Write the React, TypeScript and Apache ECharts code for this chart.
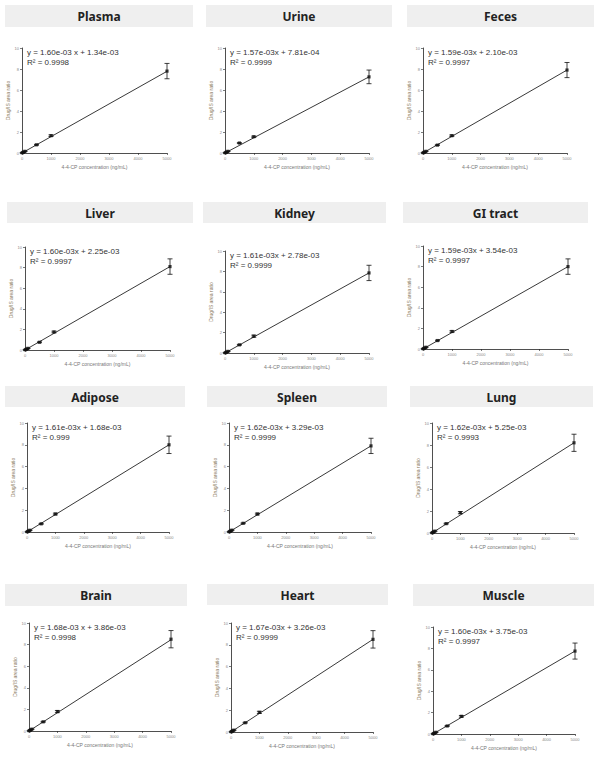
import React, { useEffect, useRef } from "react";
import * as echarts from "echarts";

// Concentrations (ng/mL)
const concentrations = [10, 50, 100, 500, 1000, 5000];

const panelNames = ["Plasma", "Urine", "Feces", "Liver", "Kidney", "GI tract", "Adipose", "Spleen", "Lung", "Brain", "Heart", "Muscle"];

const equations = [
  "y = 1.60e-03 x + 1.34e-03",
  "y = 1.57e-03x + 7.81e-04",
  "y = 1.59e-03x + 2.10e-03",
  "y = 1.60e-03x + 2.25e-03",
  "y = 1.61e-03x + 2.78e-03",
  "y = 1.59e-03x + 3.54e-03",
  "y = 1.61e-03x + 1.68e-03",
  "y = 1.62e-03x + 3.29e-03",
  "y = 1.62e-03x + 5.25e-03",
  "y = 1.68e-03 x + 3.86e-03",
  "y = 1.67e-03x + 3.26e-03",
  "y = 1.60e-03x + 3.75e-03",
];
const rSquared = ["0.9998", "0.9999", "0.9997", "0.9997", "0.9999", "0.9997", "0.999", "0.9999", "0.9993", "0.9998", "0.9999", "0.9997"];

// Mean area ratios
const plasmaY = [0.02, 0.08, 0.16, 0.78, 1.65, 7.8];
const urineY = [0.02, 0.08, 0.16, 0.95, 1.55, 7.25];
const fecesY = [0.02, 0.08, 0.16, 0.75, 1.65, 7.9];
const liverY = [0.02, 0.08, 0.16, 0.75, 1.75, 8.1];
const kidneyY = [0.02, 0.08, 0.16, 0.8, 1.65, 7.85];
const giY = [0.02, 0.08, 0.17, 0.82, 1.7, 8.0];
const adiposeY = [0.02, 0.08, 0.16, 0.75, 1.65, 8.0];
const spleenY = [0.02, 0.08, 0.17, 0.8, 1.65, 7.9];
const lungY = [0.02, 0.09, 0.17, 0.85, 1.85, 8.2];
const brainY = [0.02, 0.09, 0.17, 0.85, 1.8, 8.5];
const heartY = [0.02, 0.09, 0.17, 0.85, 1.8, 8.5];
const muscleY = [0.02, 0.08, 0.16, 0.75, 1.65, 7.75];

// Standard deviations
const plasmaErr = [0.005, 0.01, 0.02, 0.04, 0.08, 0.73];
const urineErr = [0.005, 0.01, 0.02, 0.04, 0.06, 0.65];
const fecesErr = [0.005, 0.01, 0.02, 0.04, 0.07, 0.72];
const liverErr = [0.005, 0.01, 0.02, 0.04, 0.08, 0.75];
const kidneyErr = [0.005, 0.01, 0.02, 0.04, 0.1, 0.75];
const giErr = [0.005, 0.01, 0.02, 0.04, 0.08, 0.75];
const adiposeErr = [0.005, 0.01, 0.02, 0.04, 0.08, 0.8];
const spleenErr = [0.005, 0.01, 0.02, 0.04, 0.08, 0.7];
const lungErr = [0.005, 0.01, 0.02, 0.04, 0.1, 0.78];
const brainErr = [0.005, 0.01, 0.02, 0.04, 0.1, 0.8];
const heartErr = [0.005, 0.01, 0.02, 0.04, 0.1, 0.8];
const muscleErr = [0.005, 0.01, 0.02, 0.04, 0.08, 0.75];

// Fitted line value at 5000 ng/mL
const fitAt5000 = [7.78, 7.25, 7.9, 8.1, 7.85, 8.0, 8.0, 7.9, 8.2, 8.45, 8.5, 7.75];

const meanSeries = [plasmaY, urineY, fecesY, liverY, kidneyY, giY, adiposeY, spleenY, lungY, brainY, heartY, muscleY];
const errSeries = [plasmaErr, urineErr, fecesErr, liverErr, kidneyErr, giErr, adiposeErr, spleenErr, lungErr, brainErr, heartErr, muscleErr];

// Layout: [left, top, width, height] of each plot area
const plotBoxes = [
  [22, 48, 145, 105], [225, 48, 144, 105], [423, 48, 144, 105],
  [25, 247, 145, 103], [225, 251, 144, 102], [423, 246, 145, 103],
  [27, 423, 142, 109], [229, 423, 142, 109], [432, 423, 142, 110],
  [29, 623, 142, 108], [231, 623, 142, 109], [433, 627, 142, 107],
];
// Title boxes: [x, y, w, h]
const titleBoxes = [
  [5, 5, 188, 22], [206, 5, 186, 22], [407, 5, 187, 22],
  [7, 202, 186, 21], [203, 202, 183, 21], [403, 202, 185, 21],
  [5, 386, 180, 21], [207, 386, 180, 21], [410, 386, 183, 21],
  [5, 584, 182, 22], [207, 584, 181, 21], [413, 584, 181, 22],
];

export default function App() {
  const ref = useRef<HTMLDivElement>(null);
  useEffect(() => {
    if (!ref.current) return;
    const chart = echarts.init(ref.current, null, { renderer: "svg" });
    const grids: any[] = [];
    const xAxes: any[] = [];
    const yAxes: any[] = [];
    const series: any[] = [];
    const graphics: any[] = [];
    panelNames.forEach((name, i) => {
      const [l, t, w, h] = plotBoxes[i];
      grids.push({ left: l, top: t, width: w, height: h, containLabel: false });
      xAxes.push({
        type: "value", gridIndex: i, min: 0, max: 5000, interval: 1000,
        name: "4-4-CP concentration (ng/mL)", nameLocation: "middle", nameGap: 11,
        nameTextStyle: { fontSize: 5, color: "#777", fontFamily: "Liberation Sans" },
        axisLine: { lineStyle: { color: "#222", width: 0.8 } },
        axisTick: { show: true, length: 2, lineStyle: { color: "#222", width: 0.6 } },
        axisLabel: { fontSize: 4, color: "#888", margin: 3, fontFamily: "Liberation Sans", formatter: (v: number) => String(v) },
        splitLine: { show: false },
      });
      yAxes.push({
        type: "value", gridIndex: i, min: 0, max: 10, interval: 2,
        name: "Drug/IS area ratio", nameLocation: "middle", nameGap: 8, nameRotate: 90,
        nameTextStyle: { fontSize: 5, color: "#8a7a5e", fontFamily: "Liberation Sans" },
        axisLine: { show: true, lineStyle: { color: "#222", width: 0.8 } },
        axisTick: { show: true, length: 2, lineStyle: { color: "#222", width: 0.6 } },
        axisLabel: { fontSize: 4, color: "#888", margin: 3, fontFamily: "Liberation Sans", formatter: (v: number) => String(v) },
        splitLine: { show: false },
      });
      const means = meanSeries[i];
      const errs = errSeries[i];
      series.push({
        type: "line", xAxisIndex: i, yAxisIndex: i, symbol: "none",
        data: [[0, 0], [5000, fitAt5000[i]]],
        lineStyle: { color: "#222", width: 0.9 }, silent: true, z: 2,
      });
      series.push({
        type: "custom", xAxisIndex: i, yAxisIndex: i, z: 3,
        data: concentrations.map((c, k) => [c, means[k] - errs[k], means[k] + errs[k]]),
        renderItem: (params: any, api: any) => {
          const x = api.value(0);
          const lo = api.coord([x, api.value(1)]);
          const hi = api.coord([x, api.value(2)]);
          const cw = 2.5;
          const st = { stroke: "#111", lineWidth: 0.8 };
          return {
            type: "group",
            children: [
              { type: "line", shape: { x1: lo[0], y1: lo[1], x2: hi[0], y2: hi[1] }, style: st },
              { type: "line", shape: { x1: lo[0] - cw, y1: lo[1], x2: lo[0] + cw, y2: lo[1] }, style: st },
              { type: "line", shape: { x1: hi[0] - cw, y1: hi[1], x2: hi[0] + cw, y2: hi[1] }, style: st },
            ],
          };
        },
        encode: { x: 0, y: [1, 2] },
        silent: true,
      });
      series.push({
        type: "scatter", xAxisIndex: i, yAxisIndex: i, symbol: "rect", symbolSize: 3.2, z: 4,
        itemStyle: { color: "#111" },
        data: concentrations.map((c, k) => [c, means[k]]),
        silent: true,
      });
      const [bx, by, bw, bh] = titleBoxes[i];
      graphics.push({
        type: "rect", shape: { x: bx, y: by, width: bw, height: bh },
        style: { fill: "#efefef" }, silent: true, z: 0,
      });
      graphics.push({
        type: "text", x: bx + bw / 2, y: by + bh / 2 + 0.5, silent: true, z: 1,
        style: {
          text: name, fontSize: 12, fontWeight: "bold", fontFamily: "Noto Sans",
          fill: "#222", align: "center", verticalAlign: "middle",
        },
      });
      graphics.push({
        type: "text", x: l + 5, y: t - 1, silent: true, z: 5,
        style: {
          text: equations[i] + "\nR\u00b2 = " + rSquared[i], fontSize: 8, lineHeight: 10.5,
          fontFamily: "Liberation Sans", fill: "#333", align: "left", verticalAlign: "top",
        },
      });
    });
    chart.setOption({
      animation: false,
      backgroundColor: "#ffffff",
      grid: grids,
      xAxis: xAxes,
      yAxis: yAxes,
      series,
      graphic: graphics,
    });
    return () => chart.dispose();
  }, []);
  return (
    <div
      ref={ref}
      style={{ position: "absolute", left: 0, top: 0, width: 603, height: 761, background: "#fff" }}
    />
  );
}
